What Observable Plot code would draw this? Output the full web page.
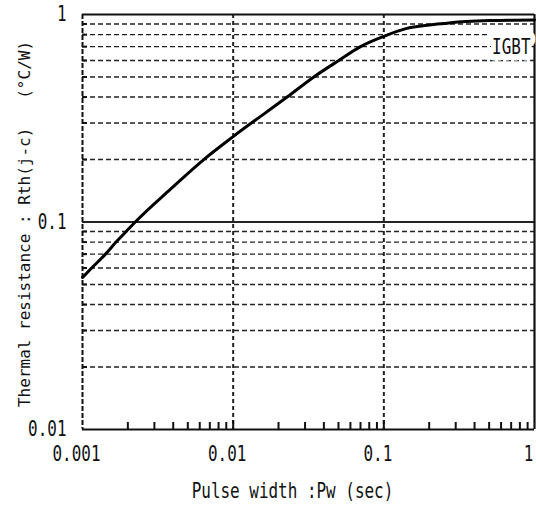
<!DOCTYPE html>
<html>
<head>
<meta charset="utf-8">
<script src="https://cdn.jsdelivr.net/npm/d3@7"></script>
<script src="https://cdn.jsdelivr.net/npm/@observablehq/plot@0.6"></script>
<style>
  html, body { margin: 0; padding: 0; background: #fff; }
  svg { display: block; }
</style>
</head>
<body>
<div id="chart"></div>
<script>
// ---- data ----
const pulseWidth = [0.001, 0.00115, 0.00142, 0.00167, 0.00195, 0.00224, 0.00384, 0.00638, 0.01, 0.0228, 0.0343, 0.0502, 0.07, 0.1, 0.14, 0.2, 0.25, 0.35, 0.5, 1];
const rth        = [0.054, 0.060, 0.070, 0.080, 0.090, 0.100, 0.144, 0.200, 0.258, 0.400, 0.500, 0.600, 0.700, 0.785, 0.855, 0.89, 0.905, 0.925, 0.935, 0.94];

const xTicks = [0.001, 0.01, 0.1, 1];
const xTickLabels = ["0.001", "0.01", "0.1", "1"];
const yTicks = [0.01, 0.1, 1];
const yTickLabels = ["0.01", "0.1", "1"];

const xMinor = [0.002, 0.003, 0.004, 0.005, 0.006, 0.007, 0.008, 0.009,
                0.02, 0.03, 0.04, 0.05, 0.06, 0.07, 0.08, 0.09,
                0.2, 0.3, 0.4, 0.5, 0.6, 0.7, 0.8, 0.9];
const yMinor = [0.02, 0.03, 0.04, 0.05, 0.06, 0.07, 0.08, 0.09,
                0.2, 0.3, 0.4, 0.5, 0.6, 0.7, 0.8, 0.9];
const xDashedGrid = [0.01, 0.1];
const xLeftEdge = [0.001];
const xRightEdge = [1];
const ySolidGrid = [0.1];
const yEdges = [0.01, 1];

const seriesName = "IGBT";
const seriesLabelAt = [{x: 1, y: 0.7, text: seriesName}];

const xTitle = "Pulse width :Pw (sec)";
const yTitle = "Thermal resistance : Rth(j-c)\u00a0\u00a0\u00a0(°C/W)";

const data = pulseWidth.map((x, i) => ({x, y: rth[i]}));

const FONT = "'DejaVu Sans Mono', 'Liberation Mono', monospace";
const INK = "#111";
const BIG = 21;        // tall, condensed-looking labels
const CHAR_W = 9.6;    // per-character advance of the condensed labels

const chart = Plot.plot({
  width: 536,
  height: 515,
  marginTop: 14,
  marginBottom: 86,
  marginLeft: 82,
  marginRight: 2,
  style: {fontFamily: FONT, fontSize: "16px", color: INK, background: "#fff", overflow: "visible"},
  x: {type: "log", domain: [0.001, 1]},
  y: {type: "log", domain: [0.01, 1]},
  marks: [
    Plot.ruleY(yMinor, {stroke: "#222", strokeWidth: 1.4, strokeDasharray: "5,3"}),
    Plot.ruleX(xDashedGrid, {stroke: "#222", strokeWidth: 2, strokeDasharray: "4,3"}),
    Plot.ruleX(xLeftEdge, {stroke: "#111", strokeWidth: 2, strokeDasharray: "5,2"}),
    Plot.ruleY(ySolidGrid, {stroke: "#222", strokeWidth: 2.2}),
    Plot.ruleY(yEdges, {stroke: "#111", strokeWidth: 2.2}),
    Plot.ruleX(xRightEdge, {stroke: "#111", strokeWidth: 2.2}),
    // inward minor ticks on bottom
    Plot.axisX(xMinor, {anchor: "bottom", tickSize: 7, dy: -7, strokeWidth: 2, tickFormat: () => "", label: null}),
    Plot.axisX(xDashedGrid, {anchor: "bottom", tickSize: 9, dy: -9, strokeWidth: 2, tickFormat: () => "", label: null}),
    // inward minor ticks on left
    Plot.axisY(yMinor, {anchor: "left", tickSize: 5, dx: 5, strokeWidth: 2, tickFormat: () => "", label: null}),
    // tick labels
    Plot.axisX(xTicks, {anchor: "bottom", tickSize: 0, tickPadding: 17, fontSize: BIG, dx: -6,
      tickFormat: d => xTickLabels[xTicks.indexOf(d)], label: null}),
    Plot.axisY(yTicks, {anchor: "left", tickSize: 0, tickPadding: 16, fontSize: BIG,
      tickFormat: d => yTickLabels[yTicks.indexOf(d)], label: null}),
    // axis titles
    Plot.text([xTitle], {frameAnchor: "bottom", lineAnchor: "middle", textAnchor: "middle", dy: 62, dx: -16, fontSize: BIG, fill: INK}),
    Plot.text([yTitle], {frameAnchor: "left", lineAnchor: "middle", textAnchor: "middle", dx: -58, dy: 2, rotate: -90, fontSize: 16, fill: INK}),
    // curve
    Plot.line(data, {x: "x", y: "y", stroke: "#000", strokeWidth: 3, curve: "monotone-x"}),
    // series label
    Plot.text(seriesLabelAt, {x: "x", y: "y", text: "text", textAnchor: "end", dx: -4, dy: 1, fontSize: BIG,
      fill: INK, stroke: "#fff", strokeWidth: 13})
  ]
});

// condense the tall labels (narrow gothic look) to a fixed advance per character
d3.select(chart).selectAll("text").each(function() {
  const g = this.closest("[font-size]");
  if (g && +g.getAttribute("font-size") === BIG) {
    const n = this.textContent.length;
    if (n > 0) {
      this.setAttribute("textLength", n * CHAR_W);
      this.setAttribute("lengthAdjust", "spacingAndGlyphs");
    }
  }
});

document.getElementById("chart").appendChild(chart);
</script>
</body>
</html>
